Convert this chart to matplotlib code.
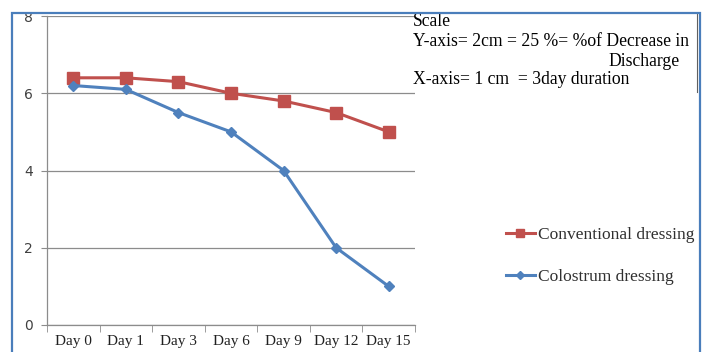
import matplotlib.pyplot as plt
from matplotlib.patches import Rectangle
from matplotlib.lines import Line2D

days = ['Day 0', 'Day 1', 'Day 3', 'Day 6', 'Day 9', 'Day 12', 'Day 15']
conventional = [6.4, 6.4, 6.3, 6.0, 5.8, 5.5, 5.0]
colostrum = [6.2, 6.1, 5.5, 5.0, 4.0, 2.0, 1.0]

red = '#C0504D'
blue = '#4F81BD'
grid_c = '#8C8C8C'
serif = 'Liberation Serif'

fig = plt.figure(figsize=(7.08, 3.52), dpi=100)
W, H = 708.0, 352.0
ax = fig.add_axes([47/W, 1-325/H, (415-47)/W, (325-16)/H])

x = list(range(len(days)))
ax.plot(x, conventional, color=red, lw=2.2, marker='s', ms=8, label='Conventional dressing')
ax.plot(x, colostrum, color=blue, lw=2.2, marker='D', ms=5.5, label='Colostrum dressing')

ax.set_xlim(-0.5, len(days) - 0.5)
ax.set_ylim(0, 8)
ax.set_yticks([0, 2, 4, 6, 8])
ax.yaxis.grid(True, color=grid_c, lw=0.9)
ax.set_axisbelow(True)

ax.set_xticks(x)
ax.set_xticklabels(days, fontfamily=serif, fontsize=11, color='#202020')
ax.set_xticks([i - 0.5 for i in range(len(days) + 1)], minor=True)
ax.tick_params(axis='x', which='major', length=0, pad=7)
ax.tick_params(axis='x', which='minor', length=5, color=grid_c, direction='out')
ax.tick_params(axis='y', length=4, color=grid_c, labelcolor='#404040', labelsize=10, pad=6)
for lab in ax.get_yticklabels():
    lab.set_fontfamily('DejaVu Sans')

for s in ['top', 'right']:
    ax.spines[s].set_visible(False)
for s in ['left', 'bottom']:
    ax.spines[s].set_color(grid_c)
    ax.spines[s].set_linewidth(0.9)

# legend outside the plot area
fig.legend(handles=[Line2D([], [], color=red, lw=2.2, marker='s', ms=6),
                    Line2D([], [], color=blue, lw=2.2, marker='D', ms=4)],
           labels=['Conventional dressing', 'Colostrum dressing'],
           loc='center left', bbox_to_anchor=(490/W, 1-256/H), frameon=False,
           prop={'family': serif, 'size': 12.5}, labelcolor='#303030',
           handlelength=1.7, handletextpad=0.15, labelspacing=1.45)

# scale text box
tx = 413/W
fs = 12.7
fig.text(tx, 1-21/H, 'Scale', fontfamily=serif, fontsize=fs, va='center')
fig.text(tx, 1-41/H, 'Y-axis= 2cm = 25 %= %of Decrease in', fontfamily=serif, fontsize=fs, va='center')
fig.text(608/W, 1-61/H, 'Discharge', fontfamily=serif, fontsize=fs, va='center')
fig.text(tx, 1-80/H, 'X-axis= 1 cm  = 3day duration', fontfamily=serif, fontsize=fs, va='center')
fig.add_artist(Line2D([697/W, 697/W], [1-13/H, 1-92/H], color='#606060', lw=0.8))

# hide what lies above the chart frame, then draw the frame
fig.add_artist(Rectangle((0, 1-13/H), 1, 13/H, facecolor='white', edgecolor='none', zorder=10))
fig.add_artist(Rectangle((12/W, -0.2), 688/W, 1.2-13/H, facecolor='none',
                         edgecolor='#4A7EBB', lw=1.6, zorder=11))

fig.savefig('out.png', dpi=100)
